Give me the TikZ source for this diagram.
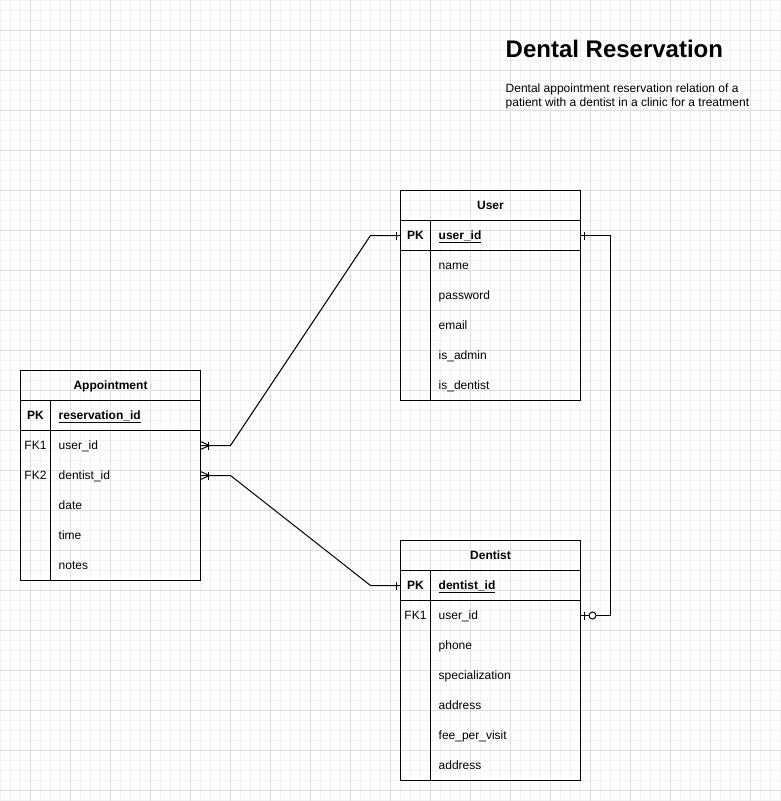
\documentclass[tikz,border=0pt]{standalone}
\usepackage{fontspec}
\setmainfont{Liberation Sans}
\newcommand\fieldrow[6]{%
  \node[rowbox] (#1) at (#2+90,#3) {};
  \node[keytxt] (#1-k) at (#2+15,#3+4.3) {#4};
  \node[fldtxt#6] (#1-f) at (#2+38,#3+4.3) {#5};
}
\begin{document}
\begin{tikzpicture}[x=1pt,y=-1pt,
  font=\fontsize{12}{14}\selectfont,
  minorgrid/.style={draw=black!5, line width=1pt},
  majorgrid/.style={draw=black!13, line width=1pt},
  rowbox/.style={minimum width=180pt, minimum height=30pt, inner sep=0pt, outer sep=0pt},
  hdr/.style={anchor=base, inner sep=0pt, font=\fontsize{12}{14}\selectfont\bfseries},
  keytxt/.style={anchor=base, inner sep=0pt},
  fldtxt/.style={anchor=base west, inner sep=0pt},
  fldtxtpk/.style={anchor=base west, inner sep=0pt, font=\fontsize{12}{14}\selectfont\bfseries},
  tbl/.style={draw=black, line width=1pt},
  conn/.style={draw=black, line width=1pt}
]
\useasboundingbox (0,0) rectangle (781,801);
\fill[white] (0,0) rectangle (781,801);
\begin{scope}[shift={(0.5,0.5)}]
% grid
\foreach \i in {0,10,...,780} {\draw[minorgrid] (\i,-1) -- (\i,801);}
\foreach \j in {0,10,...,800} {\draw[minorgrid] (-1,\j) -- (781,\j);}
\foreach \i in {30,70,...,770} {\draw[majorgrid] (\i,-1) -- (\i,801);}
\foreach \j in {30,70,...,790} {\draw[majorgrid] (-1,\j) -- (781,\j);}

% title
\node[anchor=base west, inner sep=0pt, font=\fontsize{24}{28}\selectfont\bfseries] (title) at (505,57) {Dental Reservation};
\node[anchor=base west, inner sep=0pt] (desc1) at (505,92) {Dental appointment reservation relation of a};
\node[anchor=base west, inner sep=0pt] (desc2) at (505,106) {patient with a dentist in a clinic for a treatment};

% Appointment table
\draw[tbl] (20,370) rectangle (200,580);
\draw[tbl] (20,400) -- (200,400);
\draw[tbl] (20,430) -- (200,430);
\draw[tbl] (50,400) -- (50,580);
\node[hdr] (a-h) at (110,389.3) {Appointment};
\fieldrow{a-pk}{20}{415}{\bfseries PK}{\underline{reservation\_id}}{pk}
\fieldrow{a-user}{20}{445}{FK1}{user\_id}{}
\fieldrow{a-dent}{20}{475}{FK2}{dentist\_id}{}
\fieldrow{a-date}{20}{505}{}{date}{}
\fieldrow{a-time}{20}{535}{}{time}{}
\fieldrow{a-notes}{20}{565}{}{notes}{}

% User table
\draw[tbl] (400,190) rectangle (580,400);
\draw[tbl] (400,220) -- (580,220);
\draw[tbl] (400,250) -- (580,250);
\draw[tbl] (430,220) -- (430,400);
\node[hdr] (u-h) at (490,209.3) {User};
\fieldrow{u-pk}{400}{235}{\bfseries PK}{\underline{user\_id}}{pk}
\fieldrow{u-name}{400}{265}{}{name}{}
\fieldrow{u-pass}{400}{295}{}{password}{}
\fieldrow{u-mail}{400}{325}{}{email}{}
\fieldrow{u-adm}{400}{355}{}{is\_admin}{}
\fieldrow{u-den}{400}{385}{}{is\_dentist}{}

% Dentist table
\draw[tbl] (400,540) rectangle (580,780);
\draw[tbl] (400,570) -- (580,570);
\draw[tbl] (400,600) -- (580,600);
\draw[tbl] (430,570) -- (430,780);
\node[hdr] (d-h) at (490,559.3) {Dentist};
\fieldrow{d-pk}{400}{585}{\bfseries PK}{\underline{dentist\_id}}{pk}
\fieldrow{d-user}{400}{615}{FK1}{user\_id}{}
\fieldrow{d-phone}{400}{645}{}{phone}{}
\fieldrow{d-spec}{400}{675}{}{specialization}{}
\fieldrow{d-addr}{400}{705}{}{address}{}
\fieldrow{d-fee}{400}{735}{}{fee\_per\_visit}{}
\fieldrow{d-addr2}{400}{765}{}{address}{}

% connector: Appointment.user_id -> User.user_id
\draw[conn] (a-user.east) -- ([xshift=30pt]a-user.east) -- ([xshift=-30pt]u-pk.west) -- (u-pk.west);
\draw[conn] ([yshift=4pt]a-user.east) -- ([xshift=9pt]a-user.east) -- ([yshift=-4pt]a-user.east);
\draw[conn] ([xshift=8pt,yshift=4pt]a-user.east) -- ([xshift=8pt,yshift=-4pt]a-user.east);
\draw[conn] ([xshift=-4pt,yshift=4pt]u-pk.west) -- ([xshift=-4pt,yshift=-4pt]u-pk.west);

% connector: Appointment.dentist_id -> Dentist.dentist_id
\draw[conn] (a-dent.east) -- ([xshift=30pt]a-dent.east) -- ([xshift=-30pt]d-pk.west) -- (d-pk.west);
\draw[conn] ([yshift=4pt]a-dent.east) -- ([xshift=9pt]a-dent.east) -- ([yshift=-4pt]a-dent.east);
\draw[conn] ([xshift=8pt,yshift=4pt]a-dent.east) -- ([xshift=8pt,yshift=-4pt]a-dent.east);
\draw[conn] ([xshift=-4pt,yshift=4pt]d-pk.west) -- ([xshift=-4pt,yshift=-4pt]d-pk.west);

% connector: User.user_id -> Dentist.user_id
\draw[conn] (u-pk.east) -- ([xshift=30pt]u-pk.east) -- ([xshift=30pt]d-user.east) -- (d-user.east);
\draw[conn] ([xshift=4pt,yshift=4pt]u-pk.east) -- ([xshift=4pt,yshift=-4pt]u-pk.east);
\draw[conn] ([xshift=4pt,yshift=4pt]d-user.east) -- ([xshift=4pt,yshift=-4pt]d-user.east);
\draw[conn, fill=white] ([xshift=12pt]d-user.east) circle (3.5pt);
\end{scope}
\end{tikzpicture}
\end{document}
